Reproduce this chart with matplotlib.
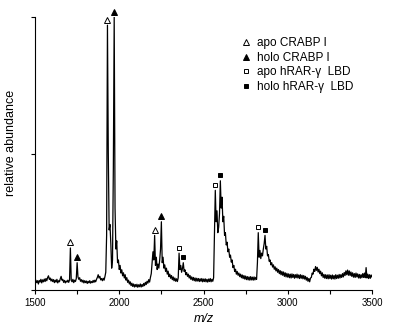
import matplotlib
matplotlib.use("Agg")
import matplotlib.pyplot as plt
from matplotlib.lines import Line2D

# spectrum sampled every 5 m/z from 1500 to 3500, values read off the picture
# (relative abundance in %)
spec_mz = list(range(1500, 3501, 5))
spec_int = [
    # 1500-1595
    2.4, 3.6, 2.7, 3.4, 2.2, 3.5, 2.9, 3.9, 2.6, 3.7, 3.0, 4.0, 3.1, 4.2, 3.4, 4.6, 5.2, 3.9, 4.4, 3.3,
    # 1600-1695
    4.0, 3.1, 3.8, 2.7, 3.6, 2.9, 3.9, 2.6, 3.4, 3.0, 4.1, 5.0, 3.6, 3.9, 2.8, 3.5, 2.6, 3.3, 2.9, 3.6,
    # 1700-1795
    2.8, 3.7, 15.4, 3.5, 3.0, 3.9, 2.7, 3.6, 3.1, 4.2, 10.0, 4.8, 3.9, 4.5, 3.2, 3.8, 2.9, 3.6, 2.6, 3.4,
    # 1800-1895
    2.7, 3.3, 2.4, 3.2, 2.6, 3.4, 2.5, 3.1, 2.7, 3.5, 2.8, 3.6, 3.0, 3.9, 4.6, 5.6, 4.4, 5.0, 3.7, 4.2,
    # 1900-1995
    3.4, 4.3, 3.6, 4.9, 6.5, 20.0, 97.0, 50.0, 22.0, 24.0, 17.0, 8.0, 11.0, 45.0, 100.0, 30.0, 15.0, 18.0, 10.0, 11.0,
    # 2000-2095
    7.5, 9.0, 6.2, 7.4, 5.2, 6.3, 4.4, 5.6, 3.6, 4.5, 2.8, 3.6, 2.2, 3.0, 1.6, 2.5, 1.3, 2.2, 1.1, 2.0,
    # 2100-2195
    1.2, 2.1, 1.0, 1.9, 1.2, 2.2, 1.1, 2.0, 1.3, 2.4, 1.6, 2.8, 2.0, 3.2, 2.5, 3.8, 2.9, 4.6, 6.0, 10.0,
    # 2200-2295
    14.0, 11.0, 20.0, 9.0, 12.0, 7.5, 9.5, 8.0, 11.0, 15.0, 25.0, 10.0, 12.0, 8.0, 9.2, 6.8, 8.0, 5.8, 6.9, 4.9,
    # 2300-2395
    5.8, 4.3, 5.3, 3.8, 4.8, 3.4, 4.4, 3.2, 4.1, 3.1, 4.5, 13.5, 7.5, 9.0, 6.5, 7.8, 10.0, 6.8, 7.4, 5.6,
    # 2400-2495
    6.4, 5.0, 5.8, 4.4, 5.3, 3.9, 4.8, 3.6, 4.6, 3.4, 4.4, 3.2, 4.3, 3.3, 4.2, 3.1, 4.1, 3.2, 4.2, 3.0,
    # 2500-2595
    4.0, 3.1, 4.1, 3.0, 3.9, 2.9, 4.0, 3.1, 4.2, 3.0, 3.9, 3.2, 4.5, 20.0, 36.5, 25.0, 29.0, 21.0, 23.0, 28.0,
    # 2600-2695
    40.0, 30.0, 34.0, 25.0, 27.0, 20.0, 21.0, 16.5, 17.5, 14.0, 15.0, 12.0, 12.8, 10.2, 11.0, 8.2, 9.0, 6.8, 7.6, 5.8,
    # 2700-2795
    6.8, 5.4, 6.2, 4.9, 5.8, 4.5, 5.5, 4.2, 5.3, 4.0, 5.1, 3.8, 4.9, 3.7, 4.8, 3.6, 4.9, 3.7, 4.7, 3.6,
    # 2800-2895
    4.8, 3.7, 4.6, 3.9, 10.0, 21.0, 12.0, 14.5, 11.5, 13.5, 12.5, 15.0, 17.0, 20.0, 15.0, 16.0, 12.5, 13.0, 10.5, 11.0,
    # 2900-2995
    9.2, 10.0, 8.4, 9.2, 7.6, 8.5, 7.0, 8.0, 6.5, 7.5, 6.0, 7.1, 5.6, 6.8, 5.4, 6.6, 5.0, 6.3, 4.8, 6.1,
    # 3000-3095
    4.7, 5.9, 4.5, 5.8, 4.4, 5.9, 4.6, 5.7, 4.3, 5.6, 4.5, 5.8, 4.4, 5.5, 4.2, 5.6, 4.3, 5.4, 4.1, 5.3,
    # 3100-3195
    4.0, 5.0, 3.6, 4.6, 3.2, 4.2, 3.0, 4.4, 4.6, 6.2, 5.8, 7.6, 6.8, 8.6, 7.2, 8.3, 6.6, 7.6, 6.0, 6.9,
    # 3200-3295
    5.2, 6.3, 4.6, 5.7, 4.3, 5.6, 4.2, 5.5, 4.1, 5.6, 4.2, 5.4, 4.0, 5.5, 4.1, 5.3, 4.0, 5.6, 4.2, 5.4,
    # 3300-3395
    4.3, 5.7, 4.4, 5.6, 4.6, 6.0, 4.8, 6.4, 5.3, 7.0, 5.6, 7.3, 5.4, 7.0, 5.3, 6.6, 5.0, 6.3, 4.7, 6.0,
    # 3400-3500
    4.6, 6.2, 4.8, 5.9, 4.4, 5.7, 4.3, 5.6, 4.5, 6.0, 4.6, 6.2, 4.5, 8.2, 4.4, 5.8, 4.2, 5.6, 4.3, 5.5, 4.8,
]
assert len(spec_int) == len(spec_mz)

# peak annotations: m/z and peak height (%)
apo_crabp_mz = [1710, 1930, 2210]
apo_crabp_h = [15.4, 97.0, 20.0]
holo_crabp_mz = [1750, 1970, 2250]
holo_crabp_h = [10.0, 100.0, 25.0]
apo_rar_mz = [2355, 2570, 2825]
apo_rar_h = [13.5, 36.5, 21.0]
holo_rar_mz = [2380, 2600, 2865]
holo_rar_h = [10.0, 40.0, 20.0]

labels = ["apo CRABP I", "holo CRABP I", "apo hRAR-\u03b3  LBD", "holo hRAR-\u03b3  LBD"]

plt.rcParams["font.family"] = ["Liberation Sans", "DejaVu Sans"]

fig = plt.figure(figsize=(4.01, 3.36), dpi=100)
ax = fig.add_axes([35 / 401, 1 - 290 / 336, 337 / 401, 273 / 336])

ax.plot(spec_mz, spec_int, color="black", lw=0.9)

off = 2.0
tri = dict(marker="^", ms=4.5, mew=0.7, ls="none", clip_on=False)
sq = dict(marker="s", ms=2.8, mew=0.7, ls="none", clip_on=False)
ax.plot(apo_crabp_mz, [h + off for h in apo_crabp_h], mfc="white", mec="black", **tri)
ax.plot(holo_crabp_mz, [h + off for h in holo_crabp_h], mfc="black", mec="black", **tri)
ax.plot(apo_rar_mz, [h + off for h in apo_rar_h], mfc="white", mec="black", **sq)
ax.plot(holo_rar_mz, [h + off for h in holo_rar_h], mfc="black", mec="black", **sq)

handles = [
    Line2D([], [], marker="^", ms=5, mfc="white", mec="black", mew=0.7, ls="none"),
    Line2D([], [], marker="^", ms=5, mfc="black", mec="black", mew=0.7, ls="none"),
    Line2D([], [], marker="s", ms=3, mfc="white", mec="black", mew=0.7, ls="none"),
    Line2D([], [], marker="s", ms=3, mfc="black", mec="black", mew=0.7, ls="none"),
]
ax.legend(handles, labels, loc="upper left", bbox_to_anchor=(0.612, 0.926),
          frameon=False, fontsize=8.5, handlelength=0.8, handletextpad=0.5,
          labelspacing=0.22, borderpad=0, borderaxespad=0)

ax.set_xlim(1500, 3500)
ax.set_ylim(0, 100)
ax.set_xticks([1500, 2000, 2500, 3000, 3500])
ax.set_xticks([1750, 2250, 2750, 3250], minor=True)
ax.set_yticks([0, 50, 100])
ax.set_yticklabels([])
ax.tick_params(axis="both", which="both", direction="out", length=3, width=0.8)
ax.tick_params(axis="x", labelsize=7, pad=3)
for s in ("top", "right"):
    ax.spines[s].set_visible(False)
for s in ("left", "bottom"):
    ax.spines[s].set_linewidth(0.8)

ax.set_xlabel("m/z", fontsize=9, style="italic", labelpad=3)
ax.set_ylabel("relative abundance", fontsize=9)
ax.yaxis.set_label_coords(-0.053, 0.54)

fig.savefig("out.png", dpi=100)
